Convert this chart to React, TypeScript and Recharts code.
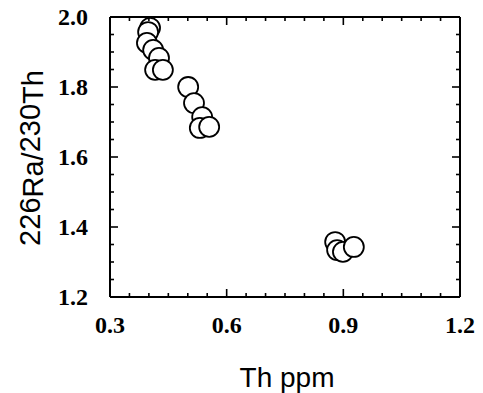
import React from "react";
import { Scatter, ScatterChart, XAxis, YAxis } from "recharts";

const thPpm = [0.403, 0.398, 0.395, 0.411, 0.426, 0.416, 0.436, 0.501, 0.516, 0.537, 0.531, 0.555, 0.879, 0.884, 0.899, 0.927];
const raTh = [1.969, 1.957, 1.926, 1.906, 1.883, 1.849, 1.849, 1.8, 1.754, 1.714, 1.683, 1.686, 1.357, 1.334, 1.329, 1.343];

const xTicks = [0.3, 0.35, 0.4, 0.45, 0.5, 0.55, 0.6, 0.65, 0.7, 0.75, 0.8, 0.85, 0.9, 0.95, 1.0, 1.05, 1.1, 1.15, 1.2];
const xLabels = [0.3, 0.6, 0.9, 1.2];
const yTicks = [1.2, 1.25, 1.3, 1.35, 1.4, 1.45, 1.5, 1.55, 1.6, 1.65, 1.7, 1.75, 1.8, 1.85, 1.9, 1.95, 2.0];
const yLabels = [1.2, 1.4, 1.6, 1.8, 2.0];

const data = thPpm.map((x, i) => ({ x, y: raTh[i] }));

const isLabel = (list: number[], v: number) => list.some((l) => Math.abs(l - v) < 1e-6);

const tickFont = { fontFamily: "Liberation Serif", fontWeight: 700, fontSize: 24, fill: "#000" };

function XTick(props: any) {
  const { x, y, payload, side } = props;
  const major = isLabel(xLabels, payload.value);
  const len = major ? 8 : 4;
  const dir = side === "top" ? 1 : -1;
  return (
    <g>
      <line x1={x} x2={x} y1={y} y2={y + dir * len} stroke="#000" strokeWidth={1.6} />
      {side !== "top" && major && (
        <text x={x} y={y + 36} textAnchor="middle" {...tickFont}>
          {payload.value.toFixed(1)}
        </text>
      )}
    </g>
  );
}

function YTick(props: any) {
  const { x, y, payload, side } = props;
  const major = isLabel(yLabels, payload.value);
  const len = major ? 8 : 4;
  const dir = side === "right" ? -1 : 1;
  return (
    <g>
      <line x1={x} x2={x + dir * len} y1={y} y2={y} stroke="#000" strokeWidth={1.6} />
      {side !== "right" && major && (
        <text x={x - 22} y={y + 8} textAnchor="end" {...tickFont}>
          {payload.value.toFixed(1)}
        </text>
      )}
    </g>
  );
}

function YTitle() {
  return (
    <text
      transform="translate(43,158) rotate(-90)"
      textAnchor="middle"
      fontFamily="Liberation Sans"
      fontSize={29}
      fill="#000"
    >
      <tspan dy={-3}>226</tspan>
      <tspan dy={3}>Ra/</tspan>
      <tspan dy={-3}>230</tspan>
      <tspan dy={3}>Th</tspan>
    </text>
  );
}

function XTitle() {
  return (
    <text x={287} y={387} textAnchor="middle" fontFamily="Liberation Sans" fontSize={28} fill="#000">
      Th ppm
    </text>
  );
}

function Dot(props: any) {
  const { cx, cy } = props;
  return <circle cx={cx} cy={cy} r={10} fill="#fff" stroke="#000" strokeWidth={1.8} />;
}

const NoDot = () => <g />;

export default function App() {
  return (
    <div style={{ position: "absolute", left: 0, top: 0, width: 483, height: 393, background: "#fff" }}>
      <ScatterChart width={483} height={393} margin={{ top: 16, right: 22, left: 0, bottom: 0 }}>
        <XAxis
          dataKey="x"
          type="number"
          domain={[0.3, 1.2]}
          ticks={xTicks}
          interval={0}
          allowDataOverflow
          height={96}
          tickSize={0}
          tickMargin={0}
          tickLine={false}
          axisLine={{ stroke: "#000", strokeWidth: 2 }}
          tick={<XTick side="bottom" />}
          label={<XTitle />}
        />
        <XAxis
          xAxisId="top"
          dataKey="x"
          orientation="top"
          type="number"
          domain={[0.3, 1.2]}
          ticks={xTicks}
          interval={0}
          allowDataOverflow
          height={1}
          tickSize={0}
          tickMargin={0}
          tickLine={false}
          axisLine={{ stroke: "#000", strokeWidth: 2 }}
          tick={<XTick side="top" />}
        />
        <YAxis
          dataKey="y"
          type="number"
          domain={[1.2, 2.0]}
          ticks={yTicks}
          interval={0}
          allowDataOverflow
          width={110}
          tickSize={0}
          tickMargin={0}
          tickLine={false}
          axisLine={{ stroke: "#000", strokeWidth: 2 }}
          tick={<YTick side="left" />}
          label={<YTitle />}
        />
        <YAxis
          yAxisId="right"
          dataKey="y"
          orientation="right"
          type="number"
          domain={[1.2, 2.0]}
          ticks={yTicks}
          interval={0}
          allowDataOverflow
          width={1}
          tickSize={0}
          tickMargin={0}
          tickLine={false}
          axisLine={{ stroke: "#000", strokeWidth: 2 }}
          tick={<YTick side="right" />}
        />
        <Scatter data={data} xAxisId="top" yAxisId="right" shape={<NoDot />} isAnimationActive={false} />
        <Scatter data={data} shape={<Dot />} isAnimationActive={false} />
      </ScatterChart>
    </div>
  );
}
